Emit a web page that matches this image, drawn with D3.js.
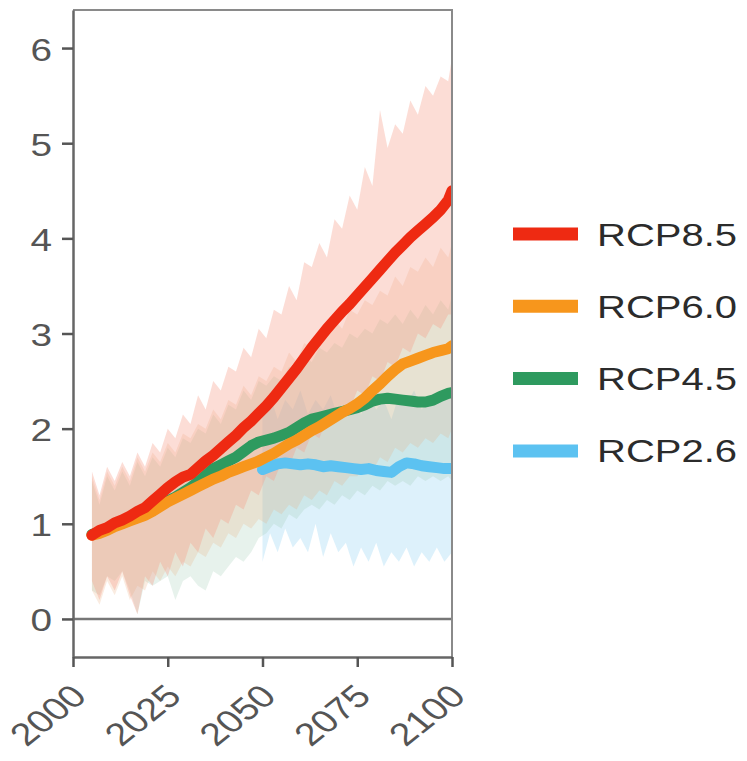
<!DOCTYPE html>
<html>
<head>
<meta charset="utf-8">
<script src="https://cdn.jsdelivr.net/npm/d3@7"></script>
<style>
  body { margin: 0; background: #fff; }
  svg text { font-family: 'Liberation Sans', Arial, sans-serif; }
</style>
</head>
<body>
<script>
// =============== DATA =================
const years = [
    2005, 2007, 2009, 2011, 2013, 2015, 2017, 2019, 2021, 2023,
    2025, 2027, 2029, 2031, 2033, 2035, 2037, 2039, 2041, 2043,
    2045, 2047, 2049, 2051, 2053, 2055, 2057, 2059, 2061, 2063,
    2065, 2067, 2069, 2071, 2073, 2075, 2077, 2079, 2081, 2083,
    2085, 2087, 2089, 2091, 2093, 2095, 2097, 2099, 2100
]
const years26 = [
    2050, 2052, 2054, 2056, 2058, 2060, 2062, 2064, 2066, 2068,
    2070, 2072, 2074, 2076, 2078, 2080, 2082, 2084, 2086, 2088,
    2090, 2092, 2094, 2096, 2098, 2100
]

const rcp85 = [
    0.88, 0.93, 0.96, 1.01, 1.04, 1.08, 1.13, 1.17, 1.24, 1.31,
    1.38, 1.44, 1.49, 1.52, 1.59, 1.66, 1.72, 1.79, 1.86, 1.93,
    2.01, 2.08, 2.16, 2.24, 2.33, 2.43, 2.53, 2.63, 2.74, 2.85,
    2.95, 3.05, 3.14, 3.23, 3.31, 3.40, 3.49, 3.58, 3.67, 3.76,
    3.85, 3.93, 4.01, 4.08, 4.15, 4.22, 4.30, 4.40, 4.50
]
const rcp85Low = [
    0.40, 0.20, 0.45, 0.30, 0.50, 0.25, 0.05, 0.45, 0.35, 0.60,
    0.45, 0.70, 0.55, 0.80, 0.70, 0.95, 0.85, 1.05, 1.00, 1.20,
    1.15, 1.35, 1.30, 1.50, 1.45, 1.65, 1.60, 1.80, 1.75, 1.95,
    1.90, 2.10, 2.05, 2.25, 2.20, 2.40, 2.35, 2.55, 2.50, 2.70,
    2.65, 2.85, 2.80, 3.00, 2.95, 3.10, 3.05, 3.20, 3.20
]
const rcp85High = [
    1.55, 1.30, 1.60, 1.45, 1.65, 1.50, 1.75, 1.60, 1.85, 1.75,
    2.00, 1.90, 2.15, 2.05, 2.35, 2.20, 2.50, 2.40, 2.65, 2.60,
    2.85, 2.75, 3.05, 2.95, 3.25, 3.20, 3.50, 3.35, 3.75, 3.70,
    3.95, 3.80, 4.20, 4.10, 4.45, 4.30, 4.75, 4.55, 5.35, 4.95,
    5.20, 5.10, 5.45, 5.30, 5.60, 5.50, 5.70, 5.65, 5.90
]

const rcp60 = [
    0.88, 0.90, 0.93, 0.97, 1.00, 1.03, 1.06, 1.09, 1.13, 1.18,
    1.23, 1.27, 1.31, 1.35, 1.39, 1.43, 1.47, 1.50, 1.54, 1.57,
    1.60, 1.63, 1.66, 1.70, 1.74, 1.79, 1.84, 1.88, 1.93, 1.98,
    2.02, 2.07, 2.12, 2.17, 2.21, 2.26, 2.32, 2.40, 2.47, 2.55,
    2.62, 2.68, 2.71, 2.74, 2.77, 2.80, 2.82, 2.84, 2.87
]
const rcp60Low = [
    0.30, 0.15, 0.40, 0.25, 0.45, 0.20, 0.35, 0.30, 0.50, 0.40,
    0.55, 0.45, 0.60, 0.55, 0.70, 0.65, 0.80, 0.75, 0.90, 0.85,
    1.00, 0.95, 1.05, 1.00, 1.15, 1.10, 1.20, 1.15, 1.30, 1.25,
    1.35, 1.30, 1.45, 1.40, 1.50, 1.50, 1.60, 1.55, 1.70, 1.65,
    1.80, 1.75, 1.85, 1.80, 1.90, 1.85, 1.95, 1.90, 2.00
]
const rcp60High = [
    1.50, 1.25, 1.55, 1.40, 1.60, 1.45, 1.70, 1.55, 1.75, 1.65,
    1.85, 1.75, 1.95, 1.90, 2.05, 2.00, 2.20, 2.10, 2.30, 2.25,
    2.45, 2.35, 2.55, 2.50, 2.65, 2.60, 2.80, 2.70, 2.90, 2.85,
    3.00, 2.95, 3.15, 3.05, 3.25, 3.20, 3.35, 3.30, 3.45, 3.40,
    3.60, 3.50, 3.70, 3.65, 3.80, 3.70, 3.90, 3.80, 3.95
]

const rcp45 = [
    0.89, 0.91, 0.94, 0.98, 1.01, 1.04, 1.07, 1.10, 1.14, 1.19,
    1.24, 1.28, 1.33, 1.38, 1.44, 1.51, 1.58, 1.62, 1.66, 1.70,
    1.76, 1.82, 1.86, 1.88, 1.90, 1.93, 1.96, 2.01, 2.06, 2.10,
    2.12, 2.14, 2.16, 2.18, 2.20, 2.22, 2.25, 2.29, 2.31, 2.32,
    2.31, 2.30, 2.29, 2.28, 2.28, 2.30, 2.34, 2.37, 2.38
]
const rcp45Low = [
    0.30, 0.25, 0.45, 0.40, 0.50, 0.30, 0.05, 0.40, 0.35, 0.40,
    0.45, 0.20, 0.40, 0.45, 0.35, 0.30, 0.50, 0.45, 0.55, 0.65,
    0.60, 0.70, 0.85, 0.90, 1.00, 0.95, 1.10, 1.05, 1.15, 1.20,
    1.15, 1.25, 1.20, 1.30, 1.25, 1.35, 1.30, 1.40, 1.35, 1.45,
    1.40, 1.45, 1.40, 1.50, 1.45, 1.50, 1.45, 1.50, 1.45
]
const rcp45High = [
    1.45, 1.20, 1.50, 1.35, 1.55, 1.40, 1.65, 1.50, 1.70, 1.60,
    1.80, 1.70, 1.90, 1.85, 2.00, 1.95, 2.15, 2.05, 2.25, 2.20,
    2.40, 2.30, 2.50, 2.45, 2.55, 2.50, 2.65, 2.60, 2.75, 2.70,
    2.85, 2.80, 2.90, 2.85, 3.00, 2.95, 3.05, 3.00, 3.15, 3.10,
    3.20, 3.10, 3.25, 3.15, 3.30, 3.20, 3.35, 3.25, 3.40
]

const rcp26 = [
    1.57, 1.60, 1.63, 1.64, 1.63, 1.62, 1.63, 1.62, 1.60, 1.61,
    1.60, 1.59, 1.58, 1.57, 1.58, 1.56, 1.55, 1.54, 1.60, 1.64,
    1.63, 1.61, 1.60, 1.59, 1.58, 1.58
]
const rcp26Low = [
    0.60, 0.90, 0.70, 0.95, 0.75, 0.85, 0.70, 1.00, 0.65, 0.90,
    0.70, 0.80, 0.55, 0.75, 0.60, 0.80, 0.55, 0.70, 0.60, 0.75,
    0.55, 0.70, 0.60, 0.75, 0.60, 0.70
]
const rcp26High = [
    2.20, 2.35, 2.10, 2.30, 2.20, 2.40, 2.15, 2.30, 2.20, 2.35,
    2.10, 2.25, 2.30, 2.15, 2.35, 2.20, 2.30, 2.10, 2.35, 2.25,
    2.40, 2.20, 2.30, 2.25, 2.35, 2.30
]

const yTicks = [0, 1, 2, 3, 4, 5, 6]
const xTicks = [2000, 2025, 2050, 2075, 2100]
const legendNames = ['RCP8.5', 'RCP6.0', 'RCP4.5', 'RCP2.6']

// =============== SETUP =================
const margin = {
        top: 10,
        right: 295,
        bottom: 104,
        left: 73
    },
    width = 747 - margin.left - margin.right,
    height = 761 - margin.top - margin.bottom

const scenarios = [
    { name: 'RCP2.6', years: years26, mean: rcp26, low: rcp26Low, high: rcp26High, color: '#5cc2f1', band: '#a6dbf5', op: 0.38 },
    { name: 'RCP4.5', years: years, mean: rcp45, low: rcp45Low, high: rcp45High, color: '#2e9a5f', band: '#9cc9b0', op: 0.24 },
    { name: 'RCP6.0', years: years, mean: rcp60, low: rcp60Low, high: rcp60High, color: '#f7961c', band: '#e8a878', op: 0.22 },
    { name: 'RCP8.5', years: years, mean: rcp85, low: rcp85Low, high: rcp85High, color: '#ee2a12', band: '#f59a86', op: 0.34 }
]
scenarios.forEach((s) => {
    s.rows = s.years.map((yr, i) => {
        return { year: yr, mean: s.mean[i], low: s.low[i], high: s.high[i] }
    })
})

const svg = d3.select('body').append('svg')
    .attr('width', width + margin.left + margin.right)
    .attr('height', height + margin.top + margin.bottom)
    .append('g')
    .attr('transform', 'translate(' + margin.left + ',' + margin.top + ')')

const x = d3.scaleLinear().domain([2000, 2100]).range([0, width])
const y = d3.scaleLinear().domain([-0.4, 6.4]).range([height, 0])

svg.append('clipPath').attr('id', 'plot')
    .append('rect').attr('width', width).attr('height', height)

const plot = svg.append('g').attr('clip-path', 'url(#plot)')

// bands
const area = d3.area()
    .x((d) => x(d.year))
    .y0((d) => y(d.low))
    .y1((d) => y(d.high))

plot.selectAll('.band')
    .data(scenarios)
    .enter().append('path')
    .attr('class', 'band')
    .attr('d', (d) => area(d.rows))
    .attr('fill', (d) => d.band)
    .attr('fill-opacity', (d) => d.op)

// zero line
plot.append('line')
    .attr('x1', 0).attr('x2', width)
    .attr('y1', y(0)).attr('y2', y(0))
    .attr('stroke', '#777').attr('stroke-width', 2.5)

// mean lines
const line = d3.line()
    .x((d) => x(d.year))
    .y((d) => y(d.mean))

plot.selectAll('.mean')
    .data(scenarios)
    .enter().append('path')
    .attr('class', 'mean')
    .attr('d', (d) => line(d.rows))
    .attr('fill', 'none')
    .attr('stroke', (d) => d.color)
    .attr('stroke-width', 11)
    .attr('stroke-linejoin', 'round')
    .attr('stroke-linecap', 'round')

// frame (top + right)
svg.append('path')
    .attr('d', 'M0,0H' + width + 'V' + height)
    .attr('fill', 'none')
    .attr('stroke', '#8a8a8a')
    .attr('stroke-width', 2)

// =============== AXES =================
const yAxis = svg.append('g')
    .attr('font-family', null)
    .call(d3.axisLeft(y).tickValues(yTicks).tickFormat(d3.format('d')).tickSize(11).tickSizeOuter(0))
yAxis.select('.domain').attr('stroke', '#666').attr('stroke-width', 2.5)
yAxis.selectAll('.tick line').attr('stroke', '#555').attr('stroke-width', 2.5)
yAxis.selectAll('.tick text')
    .attr('x', null).attr('dy', null)
    .attr('transform', 'translate(-21,12) scale(1.25,1)')
    .attr('font-size', 31)
    .attr('fill', '#555')

const xAxis = svg.append('g')
    .attr('font-family', null)
    .attr('transform', 'translate(0,' + height + ')')
    .call(d3.axisBottom(x).tickValues(xTicks).tickFormat(d3.format('d')).tickSize(10).tickSizeOuter(0))
xAxis.select('.domain').attr('stroke', '#666').attr('stroke-width', 2.5)
xAxis.selectAll('.tick line').attr('stroke', '#555').attr('stroke-width', 2.5)
xAxis.selectAll('.tick text')
    .attr('y', null).attr('dy', null)
    .attr('text-anchor', 'end')
    .attr('transform', 'translate(15,41) scale(1.25,1) rotate(-45)')
    .attr('font-size', 31.5)
    .attr('fill', '#555')

// =============== LEGEND =================
const legendColor = d3.scaleOrdinal()
    .domain(scenarios.map((s) => s.name))
    .range(scenarios.map((s) => s.color))

const legend = svg.append('g')
    .attr('transform', 'translate(' + (width + 61) + ',' + 224 + ')')

const item = legend.selectAll('g')
    .data(legendNames)
    .enter().append('g')
    .attr('transform', (d, i) => 'translate(0,' + (i * 72.3) + ')')

item.append('line')
    .attr('x1', 0).attr('x2', 65)
    .attr('stroke', (d) => legendColor(d))
    .attr('stroke-width', 13)

item.append('text')
    .text((d) => d)
    .attr('transform', 'translate(84,11.5) scale(1.25,1)')
    .attr('font-size', 32)
    .attr('fill', '#2b2b2b')
</script>
</body>
</html>
